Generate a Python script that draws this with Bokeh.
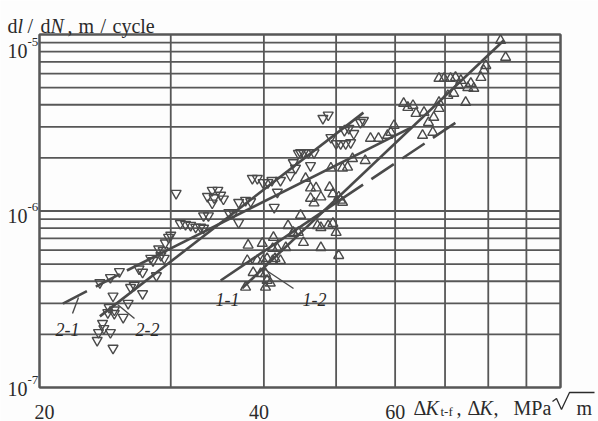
import math
from bokeh.plotting import figure
from bokeh.models import Range1d, Label
from bokeh.embed import file_html
from bokeh.resources import INLINE

# ---------------- data ----------------
x_ticks = [20, 40, 60]
x_tick_labels = ["20", "40", "60"]
y_ticks = [1e-7, 1e-6, 1e-5]
y_tick_exp = ["-7", "-6", "-5"]
x_grid = [20, 30, 40, 50, 60, 70, 80, 90, 100]
y_grid = [m * 10.0 ** e for e in (-7, -6) for m in range(1, 10)] + [1e-5]

# series 1 (up triangles)
s1_K = [37.8, 40.2, 40.8, 40.4, 38.0, 39.8, 38.1, 39.2, 39.9, 40.4, 41.1, 41.4, 42.1,
        41.1, 41.7, 42.8, 38.7, 39.6, 40.2, 43.1, 43.8, 44.5, 45.2, 44.8, 47.7, 47.2,
        47.7, 48.8, 49.5, 50.0, 50.4, 46.2, 46.7, 47.7, 50.4, 51.0, 41.2, 43.8, 45.5,
        46.2, 47.0, 49.0, 49.5, 50.7, 49.2, 51.0, 51.8, 52.6, 54.7, 55.6, 57.0, 58.6,
        59.8, 59.2, 61.6, 62.4, 63.4, 64.0, 65.6, 66.5, 68.7, 67.6, 67.4, 65.3, 70.6,
        71.9, 73.0, 68.7, 69.8, 71.2, 72.3, 73.5, 75.8, 76.5, 75.1, 74.6, 79.4, 78.9,
        78.2, 83.1, 84.4, 68.7]
s1_v = [3.7e-7, 3.7e-7, 3.9e-7, 4.04e-7, 5.24e-7, 6.55e-7, 6.4e-7, 5.24e-7, 5.24e-7,
        5.38e-7, 5.24e-7, 5.38e-7, 5.24e-7, 6.13e-7, 6.13e-7, 6.2e-7, 4.48e-7, 4.42e-7,
        4.42e-7, 8.26e-7, 7.56e-7, 7.56e-7, 6.63e-7, 9.45e-7, 6.2e-7, 8.26e-7, 8.05e-7,
        8.26e-7, 8.5e-7, 7.56e-7, 5.59e-7, 1.18e-6, 1.11e-6, 1.2e-6, 1.2e-6, 1.12e-6,
        7.08e-7, 7.46e-7, 1.53e-6, 1.35e-6, 1.35e-6, 1.36e-6, 1.25e-6, 1.15e-6, 1.75e-6,
        1.75e-6, 1.77e-6, 1.98e-6, 1.93e-6, 2.58e-6, 2.58e-6, 2.68e-6, 3.05e-6, 2.79e-6,
        4.07e-6, 3.86e-6, 3.96e-6, 3.57e-6, 3.62e-6, 3.17e-6, 3.81e-6, 3.39e-6, 2.79e-6,
        2.68e-6, 4.51e-6, 4.64e-6, 5.14e-6, 5.64e-6, 5.64e-6, 5.64e-6, 5.71e-6, 5.49e-6,
        5.29e-6, 4.95e-6, 5.0e-6, 4.12e-6, 6.67e-6, 6.25e-6, 5.71e-6, 9.25e-6, 7.42e-6,
        4.12e-6]

# series 2 (down triangles)
s2_K = [29.8, 28.9, 29.1, 29.4, 28.2, 27.2, 27.5, 28.7, 27.5, 26.8, 26.3, 25.1, 24.8,
        25.2, 24.7, 25.9, 24.3, 24.4, 24.9, 24.0, 23.9, 25.1, 25.2, 24.1, 24.9, 25.6,
        26.5, 30.5, 34.1, 34.7, 33.6, 34.3, 35.0, 35.3, 34.1, 38.6, 39.2, 39.9, 40.5,
        41.7, 41.3, 33.2, 33.7, 30.9, 31.4, 31.9, 32.4, 32.9, 33.2, 35.9, 36.4, 37.0,
        37.0, 37.8, 38.4, 30.0, 43.4, 44.1, 44.5, 29.5, 28.4, 29.3, 48.0, 48.8, 53.9,
        54.4, 51.3, 52.0, 52.8, 49.2, 50.0, 50.7, 51.5, 52.3, 44.8, 45.2, 45.9, 46.7,
        43.8, 46.2, 41.0, 42.1]
s2_v = [7.1e-7, 6.1e-7, 5.6e-7, 5.4e-7, 5.4e-7, 4.7e-7, 4.5e-7, 4.3e-7, 3.4e-7, 3.8e-7,
        3.0e-7, 3.3e-7, 2.84e-7, 2.75e-7, 2.66e-7, 2.5e-7, 2.31e-7, 2.16e-7, 2.05e-7,
        2.05e-7, 1.85e-7, 1.67e-7, 2.63e-7, 3.93e-7, 4.2e-7, 4.54e-7, 3.69e-7, 1.26e-6,
        1.31e-6, 1.31e-6, 1.21e-6, 1.19e-6, 1.23e-6, 1.17e-6, 1.11e-6, 1.53e-6, 1.53e-6,
        1.45e-6, 1.45e-6, 1.28e-6, 1.05e-6, 9.4e-7, 9.4e-7, 8.5e-7, 8.4e-7, 8.3e-7,
        8.1e-7, 8.1e-7, 8.0e-7, 9.8e-7, 9.8e-7, 8.6e-7, 1.12e-6, 1.15e-6, 1.13e-6,
        7.3e-7, 1.59e-6, 1.75e-6, 2.12e-6, 6.6e-7, 5.24e-7, 5.97e-7, 3.35e-6, 3.5e-6,
        3.18e-6, 3.26e-6, 2.86e-6, 2.94e-6, 2.75e-6, 2.61e-6, 2.41e-6, 2.41e-6, 2.41e-6,
        2.44e-6, 2.14e-6, 2.14e-6, 2.14e-6, 2.14e-6, 1.88e-6, 1.81e-6, 1.49e-6, 1.49e-6]

# fitted lines: solid part / dashed (extrapolated) part
l11_solid_K = [35.0, 50.7]; l11_solid_v = [4.04e-7, 1.16e-6]     # 1-1
l11_dash_K = [50.7, 72.8];  l11_dash_v = [1.16e-6, 3.22e-6]
l12_K = [37.4, 83.9];       l12_v = [3.65e-7, 9.25e-6]           # 1-2
l21_dash_K = [21.5, 26.2];  l21_dash_v = [2.99e-7, 4.60e-7]      # 2-1
l21_solid_K = [26.2, 63.0]; l21_solid_v = [4.60e-7, 2.97e-6]
l22_K = [24.1, 54.4];       l22_v = [2.53e-7, 3.61e-6]           # 2-2

# ---------------- layout ----------------
X0, X1, Y0, Y1 = 20.0, 100.0, 1e-7, 1e-5      # plotted region
FL, FR, FT, FB = 39, 560, 34, 387              # its pixel box on the page
W, H = 598, 421
KX = (FR - FL) / math.log10(X1 / X0)           # px per decade (x)
KY = (FB - FT) / math.log10(Y1 / Y0)           # px per decade (y)


def at(px, py):
    """page pixel position -> data coordinates (for annotations)"""
    return X0 * 10 ** ((px - FL) / KX), Y0 * 10 ** ((FB - py) / KY)


def px_of(x):
    return FL + KX * math.log10(x / X0)


def py_of(y):
    return FB - KY * math.log10(y / Y0)


INK = "#4a4a4a"
GRID = "#575757"
TXT = "#2b2b2b"
SERIF = "Liberation Serif"
BG = "#fdfdfd"

(xa, ya), (xb, yb) = at(0, H), at(W, 0)
p = figure(width=W, height=H, x_axis_type="log", y_axis_type="log",
           x_range=Range1d(xa, xb), y_range=Range1d(ya, yb),
           output_backend="svg", toolbar_location=None, min_border=0)
p.xaxis.visible = False
p.yaxis.visible = False
p.xgrid.visible = False
p.ygrid.visible = False
p.outline_line_color = None
p.background_fill_color = BG
p.border_fill_color = BG

# grid and frame
p.segment(x0=x_grid, y0=[Y0] * len(x_grid), x1=x_grid, y1=[Y1] * len(x_grid),
          line_color=GRID, line_width=1.8)
p.segment(x0=[X0] * len(y_grid), y0=y_grid, x1=[X1] * len(y_grid), y1=y_grid,
          line_color=GRID, line_width=1.8)
p.quad(left=[X0], right=[X1], bottom=[Y0], top=[Y1], fill_color=None,
       line_color=GRID, line_width=2.2)

# fitted lines
DASH = "27 10"
p.line(l11_solid_K, l11_solid_v, line_color=INK, line_width=2.6)
p.line(l11_dash_K, l11_dash_v, line_color=INK, line_width=2.6, line_dash=DASH)
p.line(l12_K, l12_v, line_color=INK, line_width=2.6)
p.line(l21_dash_K, l21_dash_v, line_color=INK, line_width=2.6, line_dash=DASH)
p.line(l21_solid_K, l21_solid_v, line_color=INK, line_width=2.6)
p.line(l22_K, l22_v, line_color=INK, line_width=2.6)

# markers
p.scatter(s1_K, s1_v, marker="triangle", size=10, fill_color=None,
          line_color=INK, line_width=1.4)
p.scatter(s2_K, s2_v, marker="inverted_triangle", size=10, fill_color=None,
          line_color=INK, line_width=1.4)


def lab(px, py, text, size="20px", style="normal", align="left"):
    x, y = at(px, py)
    p.add_layout(Label(x=x, y=y, text=text, text_font=SERIF, text_font_size=size,
                       text_font_style=style, text_color=TXT, text_align=align,
                       text_baseline="alphabetic"))


def stroke(pts, width=1.3, color=TXT):
    xs, ys = zip(*[at(a, b) for a, b in pts])
    p.line(list(xs), list(ys), line_color=color, line_width=width)


# tick labels (small per-label nudges follow the scanned original)
y_nudge = [1, 5, 16]
for t, e, dn in zip(y_ticks, y_tick_exp, y_nudge):
    base = py_of(t) + dn
    lab(27, base, "10", align="right")
    lab(27, base - 9, e, size="13px")
x_nudge = [5, -5, 0]
for t, s, dx in zip(x_ticks, x_tick_labels, x_nudge):
    lab(px_of(t) + dx, 411, s, align="center")

# y axis title
for px, s, st in [(7, "d", "normal"), (17, "l", "italic"), (27, "/", "normal"),
                  (40, "d", "normal"), (50, "N", "italic"), (67, ",", "normal"),
                  (78, "m", "normal"), (100, "/", "normal"), (112, "cycle", "normal")]:
    lab(px, 25, s, style=st)

# x axis title
for px, py, s, st, sz in [(413, 407, "\u0394", "normal", "20px"), (425, 407, "K", "italic", "20px"),
                          (440, 411, "t-f", "normal", "13px"), (456, 407, ",", "normal", "20px"),
                          (467, 407, "\u0394", "normal", "20px"), (479, 407, "K", "italic", "20px"),
                          (493, 407, ",", "normal", "20px"), (513, 407, "MPa", "normal", "20px"),
                          (576, 407, "m", "normal", "20px")]:
    lab(px, py, s, style=st, size=sz)
# square-root sign drawn as a stroke (tall radical of the original typesetting)
stroke([(552, 401), (556, 398), (561, 409), (569, 392), (594, 392)], width=1.3)

# curve labels
for px, py, s in [(227, 299, "1-1"), (314, 299, "1-2"), (67, 329, "2-1"), (147, 329, "2-2")]:
    lab(px, py, s, size="18px", style="italic", align="center")

# leader lines
for seg in [[(72, 313), (78, 297)], [(134, 318), (117, 304)], [(293, 288), (263, 268)]]:
    stroke(seg, width=1.4, color=INK)

open("out.html", "w").write(file_html(p, INLINE))
